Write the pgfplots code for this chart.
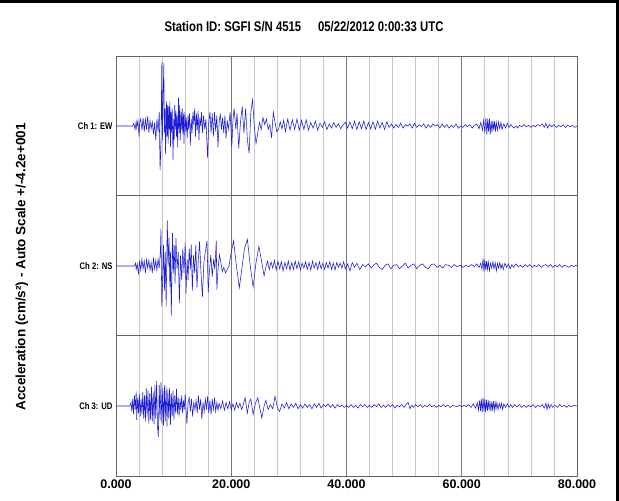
\documentclass[border=0pt]{standalone}
\usepackage{fontspec}
\setmainfont{Liberation Sans}
\newfontfamily\cond{Liberation Sans}[FakeStretch=0.81]
\usepackage{pgfplots}
\usepackage{pgfplotstable}
\pgfplotsset{compat=1.18}

\definecolor{trace}{RGB}{28,28,210}
\definecolor{gridlight}{RGB}{200,200,200}
\definecolor{griddark}{RGB}{120,120,120}
\definecolor{framegray}{RGB}{100,100,100}

% normalised amplitudes, +/-1 = half a channel panel
\pgfplotstableread{
t a
0 0
2.9 0
3.1 0.04
3.3 -0.05
3.5 0.06
3.6 -0.03
3.8 0.08
4.0 -0.15
4.1 0.05
4.3 0.10
4.5 -0.06
4.7 0.12
4.9 -0.08
5.1 0.10
5.3 -0.05
5.5 0.14
5.7 -0.10
5.9 0.08
6.1 -0.04
6.3 0.06
6.5 -0.12
6.7 0.05
6.9 -0.20
7.1 0.10
7.3 -0.08
7.5 0.20
7.65 -0.63
7.8 -0.30
7.95 0.91
8.05 -0.20
8.15 0.30
8.3 0.90
8.4 -0.10
8.5 0.25
8.6 -0.40
8.75 0.35
8.85 -0.15
8.95 0.30
9.05 -0.25
9.15 0.28
9.25 -0.05
9.35 0.35
9.45 -0.30
9.55 0.20
9.65 -0.10
9.75 0.25
9.9 -0.49
10.0 0.10
10.1 -0.20
10.2 0.30
10.3 -0.05
10.4 0.22
10.5 -0.15
10.6 0.15
10.7 -0.30
10.85 0.40
10.95 -0.10
11.05 0.30
11.15 -0.20
11.3 0.20
11.4 -0.05
11.5 0.25
11.6 -0.12
11.7 0.18
11.8 -0.25
11.95 0.20
12.1 -0.08
12.2 0.12
12.35 -0.18
12.5 0.15
12.6 -0.05
12.75 0.18
12.9 -0.28
13.05 0.10
13.2 -0.10
13.35 0.20
13.5 0.02
13.65 0.25
13.8 -0.15
13.95 0.18
14.1 -0.06
14.25 0.22
14.4 -0.20
14.55 0.12
14.7 0.00
14.85 0.20
15.0 -0.10
15.2 0.15
15.4 -0.05
15.6 0.10
15.9 -0.46
16.1 0.05
16.3 0.20
16.5 -0.10
16.7 0.18
16.9 -0.15
17.1 0.20
17.3 -0.08
17.5 0.15
17.7 -0.30
17.9 0.05
18.1 0.18
18.3 -0.05
18.5 0.12
18.7 -0.10
18.9 0.15
19.1 -0.18
19.3 0.08
19.5 -0.05
19.8 0.20
20.1 -0.30
20.3 0.10
20.5 0.25
20.8 -0.05
21.0 0.18
21.3 -0.32
21.6 0.05
21.9 0.28
22.2 -0.10
22.5 0.25
22.8 -0.20
23.1 -0.39
23.4 0.20
23.7 0.37
24.0 0.00
24.3 -0.25
24.6 -0.10
24.9 0.05
25.2 -0.05
25.5 0.12
25.8 0.02
26.1 0.10
26.4 -0.05
26.7 0.02
27.0 -0.17
27.3 0.20
27.6 0.05
27.9 -0.08
28.2 -0.05
28.5 0.06
28.8 -0.04
29.1 0.08
29.4 -0.08
29.8 0.10
30.2 -0.06
30.6 0.09
31.0 -0.05
31.4 0.10
31.8 -0.06
32.2 0.08
32.6 -0.05
33.0 0.09
33.4 -0.06
33.8 0.05
34.2 -0.03
34.6 0.07
35.0 -0.06
35.4 0.04
35.8 -0.02
36.2 0.06
36.6 -0.05
37.0 0.03
37.4 -0.03
37.8 0.05
38.2 -0.02
38.6 0.03
39.0 -0.04
39.4 0.02
39.8 0.05
40.2 -0.03
40.6 0.06
41.0 -0.04
41.4 0.07
41.8 -0.05
42.2 0.06
42.6 -0.04
43.0 0.07
43.4 -0.05
43.8 0.05
44.2 -0.04
44.6 0.06
45.0 -0.05
45.4 0.07
45.8 -0.03
46.2 0.05
46.6 -0.05
47.0 0.06
47.4 -0.02
47.8 0.03
48.2 -0.03
48.6 0.02
49.0 -0.02
49.4 0.04
49.8 -0.03
50.2 0.02
50.6 0.00
51.0 0.03
51.4 -0.03
51.8 0.04
52.2 -0.02
52.6 0.02
53.0 -0.01
53.4 0.03
53.8 -0.03
54.2 0.02
54.6 -0.02
55.0 0.03
55.4 0.00
55.8 0.02
56.2 -0.03
56.6 0.03
57.0 -0.02
57.4 0.02
57.8 -0.03
58.2 0.01
58.6 -0.02
59.0 0.03
59.4 -0.03
59.8 0.00
60.2 -0.02
60.6 0.02
61.0 -0.01
61.4 0.02
61.8 -0.03
62.2 0.01
62.6 0.03
63.0 -0.04
63.3 0.05
63.6 -0.06
63.8 0.08
64.0 -0.10
64.2 0.12
64.35 -0.13
64.5 0.10
64.65 -0.08
64.8 0.11
64.95 -0.12
65.1 0.07
65.25 -0.09
65.4 0.08
65.55 -0.06
65.7 0.07
65.85 -0.08
66.0 0.05
66.2 -0.06
66.4 0.06
66.6 -0.04
66.8 0.05
67.0 -0.05
67.3 0.03
67.6 -0.03
67.9 0.04
68.2 -0.02
68.5 0.02
68.8 -0.01
69.1 -0.03
69.4 0.00
69.7 -0.03
70.0 0.01
70.4 -0.01
70.8 0.02
71.2 -0.01
71.6 0.01
72.0 -0.02
72.4 0.01
72.8 -0.01
73.2 0.02
73.6 0.00
74.0 0.03
74.3 -0.02
74.6 0.04
74.9 -0.03
75.2 0.02
75.6 -0.01
76.0 0.02
76.4 -0.02
76.8 0.01
77.2 -0.01
77.6 0.02
78.0 -0.02
78.4 0.01
78.8 -0.01
79.2 0.01
79.6 -0.02
80.0 0.00
}\chEW

\pgfplotstableread{
t a
0 0
3.2 0
3.4 0.04
3.5 -0.05
3.7 0.03
3.9 -0.12
4.1 0.08
4.3 -0.06
4.5 0.10
4.7 -0.04
4.9 0.07
5.1 -0.10
5.3 0.09
5.5 -0.03
5.7 0.08
5.9 -0.06
6.1 0.05
6.3 -0.10
6.5 0.12
6.7 -0.04
6.9 0.08
7.1 -0.06
7.3 0.10
7.5 -0.03
7.7 0.20
7.8 0.53
7.95 -0.58
8.1 -0.20
8.25 0.30
8.4 -0.35
8.55 0.20
8.7 -0.58
8.9 0.65
9.05 0.00
9.2 0.40
9.35 -0.30
9.45 0.20
9.6 -0.71
9.8 0.47
9.95 -0.10
10.1 0.30
10.25 -0.25
10.4 0.40
10.6 -0.05
10.8 0.20
11.0 -0.53
11.2 0.15
11.4 -0.20
11.6 0.25
11.8 -0.10
12.0 0.33
12.15 -0.39
12.35 0.10
12.5 -0.20
12.7 0.25
12.9 -0.05
13.05 0.31
13.25 -0.35
13.45 0.15
13.65 -0.10
13.85 0.30
14.05 -0.31
14.3 0.10
14.5 0.35
14.75 -0.10
15.0 -0.44
15.25 0.05
15.5 0.20
15.8 0.36
16.0 -0.38
16.2 -0.10
16.45 0.16
16.7 -0.15
16.95 0.10
17.15 -0.05
17.4 0.36
17.5 -0.34
17.7 -0.05
17.95 0.16
18.2 0.05
18.45 -0.08
18.7 -0.02
19.0 -0.10
19.3 -0.05
19.6 0.00
19.9 0.15
20.4 0.36
20.9 0.00
21.4 -0.31
21.9 0.00
22.3 0.25
22.8 0.38
23.3 0.00
23.8 -0.30
24.3 0.05
24.8 0.28
25.3 0.05
25.7 -0.14
26.0 -0.02
26.3 0.07
26.6 -0.05
26.9 0.06
27.2 -0.03
27.5 0.08
27.8 -0.06
28.1 0.07
28.4 -0.04
28.7 0.06
29.0 -0.07
29.3 0.05
29.6 -0.04
29.9 0.07
30.2 -0.06
30.5 0.05
30.8 -0.05
31.1 0.07
31.4 -0.04
31.7 0.06
32.0 -0.06
32.3 0.04
32.6 -0.03
32.9 0.06
33.2 -0.05
33.5 0.05
33.8 -0.06
34.1 0.07
34.4 -0.03
34.7 0.05
35.0 -0.05
35.3 0.06
35.6 -0.04
35.9 0.04
36.2 -0.05
36.5 0.05
36.8 -0.03
37.1 0.06
37.4 -0.05
37.7 0.04
38.0 -0.06
38.3 0.05
38.6 -0.02
38.9 0.04
39.2 -0.03
39.5 0.06
39.8 -0.04
40.2 0.03
40.6 -0.07
41.0 0.05
41.4 -0.02
41.8 0.04
42.3 -0.05
42.8 0.02
43.3 -0.01
43.8 0.03
44.3 -0.03
44.8 0.02
45.2 0.04
45.7 -0.02
46.2 -0.05
46.7 0.01
47.2 0.03
47.7 -0.04
48.2 0.01
48.7 0.02
49.2 -0.04
49.7 0.00
50.2 0.04
50.7 -0.03
51.2 0.01
51.7 0.03
52.2 -0.04
52.7 0.01
53.2 0.03
53.7 -0.02
54.2 -0.04
54.7 0.02
55.2 0.03
55.7 -0.02
56.2 0.01
56.7 -0.03
57.2 0.02
57.7 0.01
58.2 -0.02
58.7 0.02
59.2 -0.01
59.7 0.01
60.2 -0.02
60.7 0.01
61.2 -0.01
61.7 0.02
62.2 -0.01
62.6 0.03
63.0 -0.02
63.3 0.04
63.5 -0.05
63.7 0.11
63.85 -0.08
64.0 0.09
64.15 -0.06
64.3 0.07
64.45 -0.05
64.6 0.06
64.8 -0.07
65.0 0.04
65.2 -0.03
65.4 0.06
65.6 -0.04
65.8 0.05
66.0 -0.07
66.2 0.04
66.4 -0.03
66.6 0.05
66.8 -0.04
67.0 0.03
67.2 -0.05
67.5 0.04
67.8 -0.02
68.1 0.03
68.4 -0.04
68.7 0.02
69.0 -0.02
69.4 0.03
69.8 -0.01
70.2 0.01
70.6 -0.02
71.0 0.02
71.4 -0.01
71.8 0.02
72.2 -0.02
72.6 0.01
73.0 -0.01
73.4 0.02
73.8 -0.02
74.2 0.01
74.6 0.02
75.0 -0.01
75.4 0.02
75.8 -0.02
76.2 0.01
76.6 -0.01
77.0 0.02
77.4 -0.02
77.8 0.01
78.2 0.00
78.6 -0.02
79.0 0.01
79.4 -0.01
79.8 0.01
80.0 0.00
}\chNS

\pgfplotstableread{
t a
0 0
2.4 0
2.6 0.05
2.75 -0.08
2.9 0.10
3.05 -0.12
3.2 0.15
3.35 -0.05
3.5 0.21
3.6 -0.20
3.75 0.12
3.9 -0.10
4.05 0.18
4.2 -0.15
4.35 0.10
4.5 -0.12
4.65 0.20
4.8 -0.18
4.95 0.15
5.1 -0.22
5.25 0.25
5.4 -0.15
5.55 0.22
5.7 -0.25
5.85 0.18
6.0 -0.20
6.15 0.28
6.3 -0.22
6.45 0.20
6.6 -0.26
6.75 0.30
6.9 -0.18
7.05 0.36
7.2 -0.30
7.35 -0.44
7.5 0.30
7.65 -0.20
7.8 0.34
7.95 -0.25
8.1 0.25
8.25 -0.28
8.4 0.30
8.55 -0.22
8.7 0.28
8.85 -0.29
9.0 0.24
9.15 -0.18
9.3 0.26
9.45 -0.27
9.6 0.18
9.75 -0.15
9.9 0.22
10.05 -0.20
10.2 0.15
10.35 -0.10
10.5 0.24
10.65 -0.12
10.8 0.12
10.95 -0.15
11.1 0.10
11.25 -0.06
11.4 0.15
11.55 -0.10
11.7 0.08
11.85 -0.05
12.0 0.17
12.3 -0.26
12.5 0.05
12.7 0.12
12.9 -0.08
13.1 0.10
13.3 -0.15
13.5 0.05
13.7 -0.05
13.9 0.08
14.1 -0.10
14.3 0.15
14.5 -0.05
14.7 0.10
14.9 -0.19
15.1 0.05
15.3 -0.08
15.5 0.10
15.7 -0.05
15.9 0.14
16.1 -0.10
16.3 0.08
16.5 -0.12
16.7 0.10
16.9 -0.05
17.1 0.12
17.3 -0.08
17.5 0.05
17.7 -0.06
17.9 0.04
18.2 -0.04
18.5 0.07
18.8 -0.06
19.1 0.05
19.4 -0.04
19.7 0.06
20.0 -0.05
20.3 0.03
20.6 -0.06
20.9 0.05
21.2 -0.03
21.5 0.04
21.8 -0.05
22.1 0.02
22.4 0.12
22.8 -0.10
23.1 0.05
23.4 0.10
23.8 -0.12
24.2 0.04
24.6 0.12
25.0 -0.05
25.3 -0.17
25.7 0.00
26.0 0.08
26.4 -0.05
26.8 0.02
27.2 -0.04
27.6 0.14
28.0 -0.02
28.4 -0.08
28.8 0.03
29.2 -0.03
29.6 0.05
30.0 -0.04
30.4 0.03
30.8 -0.02
31.2 0.04
31.6 -0.04
32.0 0.02
32.4 -0.03
32.8 0.03
33.2 -0.02
33.6 0.02
34.0 -0.04
34.4 0.03
34.8 -0.02
35.2 0.04
35.6 -0.03
36.0 0.02
36.4 -0.01
36.8 0.03
37.2 -0.02
37.6 0.02
38.0 -0.03
38.4 0.02
38.8 -0.01
39.2 0.01
39.6 -0.02
40.0 0.01
40.4 -0.02
40.8 0.02
41.2 -0.02
41.6 0.01
42.0 -0.03
42.4 0.02
42.8 -0.01
43.2 0.02
43.6 -0.02
44.0 0.01
44.4 -0.02
44.8 0.02
45.2 -0.01
45.6 0.03
46.0 -0.02
46.4 0.01
46.8 -0.02
47.2 0.02
47.6 -0.01
48.0 0.02
48.4 -0.03
48.8 0.01
49.2 -0.01
49.6 0.02
50.0 -0.02
50.4 0.03
50.7 0.05
51.0 -0.04
51.3 0.01
51.6 -0.02
52.0 0.02
52.4 -0.01
52.8 0.02
53.2 -0.02
53.6 0.01
54.0 -0.01
54.4 0.02
54.8 -0.01
55.2 0.01
55.6 -0.02
56.0 0.01
56.4 -0.01
56.8 0.02
57.2 -0.01
57.6 0.01
58.0 -0.02
58.4 0.01
58.8 0.00
59.2 -0.01
59.6 0.01
60.0 -0.01
60.4 0.01
60.8 -0.01
61.2 0.02
61.6 -0.02
62.0 0.03
62.4 -0.03
62.7 0.05
62.9 -0.06
63.1 0.08
63.25 -0.07
63.4 0.10
63.55 -0.09
63.7 0.12
63.85 -0.08
64.0 0.10
64.15 -0.09
64.3 0.09
64.45 -0.07
64.6 0.08
64.75 -0.06
64.9 0.07
65.05 -0.08
65.2 0.06
65.35 -0.05
65.5 0.07
65.65 -0.06
65.8 0.05
65.95 -0.04
66.1 0.05
66.3 -0.05
66.5 0.04
66.7 -0.03
66.9 0.04
67.1 -0.05
67.3 0.03
67.6 -0.02
67.9 0.03
68.2 -0.02
68.5 0.02
68.8 -0.02
69.2 0.02
69.6 -0.01
70.0 0.02
70.4 -0.02
70.8 0.01
71.2 -0.02
71.6 0.01
72.0 -0.01
72.4 0.02
72.8 -0.02
73.2 0.01
73.6 -0.01
74.0 0.02
74.3 -0.03
74.6 0.04
74.8 -0.05
75.0 0.03
75.2 -0.03
75.5 0.02
75.8 -0.02
76.2 0.01
76.6 -0.02
77.0 0.02
77.4 -0.01
77.8 0.01
78.2 -0.02
78.6 0.01
79.0 -0.01
79.4 0.01
80.0 0.00
}\chUD

\begin{document}
\begin{tikzpicture}[x=1pt,y=1pt]
\path[use as bounding box] (0,0) rectangle (619,501);
\draw[line width=3pt] (0,499.5) -- (617,499.5) -- (617,0);

\node[font=\cond\bfseries\fontsize{14}{14}\selectfont] at (304,474)
  {Station ID: SGFI S/N 4515\hspace{1.2em}05/22/2012 0:00:33 UTC};
\node[rotate=90, font=\bfseries\fontsize{13.5}{13.5}\selectfont] at (22,234)
  {Acceleration (cm/s²) - Auto Scale +/-4.2e+001};

\begin{axis}[
    at={(116pt,25pt)}, anchor=south west,
    scale only axis, width=461pt, height=420pt,
    xmin=0, xmax=80, ymin=-3, ymax=3,
    axis line style={draw=framegray, line width=0.8pt},
    xtick={0,20,40,60,80},
    minor xtick={4,8,12,16,24,28,32,36,44,48,52,56,64,68,72,76},
    xmajorgrids, xminorgrids,
    major grid style={draw=griddark, line width=0.7pt},
    minor grid style={draw=gridlight, line width=0.7pt},
    major tick length=0pt, minor tick length=0pt,
    xticklabel style={font=\bfseries\fontsize{12.5}{12.5}\selectfont,
      /pgf/number format/fixed, /pgf/number format/fixed zerofill,
      /pgf/number format/precision=3, /pgf/number format/assume math mode=true},
    ytick={2,0,-2},
    yticklabels={Ch 1: EW, Ch 2: NS, Ch 3: UD},
    yticklabel style={font=\cond\bfseries\fontsize{9.5}{9.5}\selectfont},
    extra y ticks={-1,1}, extra y tick labels={},
    extra y tick style={grid=major, major grid style={draw=framegray, line width=1pt}},
]
\addplot[trace, line width=0.55pt] table[x=t, y expr=\thisrow{a}+2] {\chEW};
\addplot[trace, line width=0.55pt] table[x=t, y expr=\thisrow{a}] {\chNS};
\addplot[trace, line width=0.55pt] table[x=t, y expr=\thisrow{a}-2] {\chUD};
\end{axis}
\end{tikzpicture}
\end{document}
